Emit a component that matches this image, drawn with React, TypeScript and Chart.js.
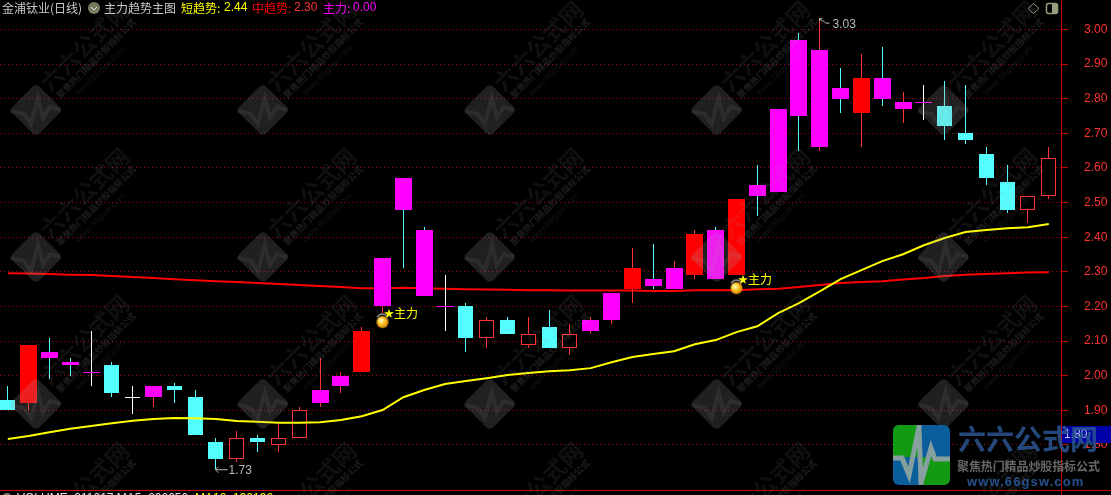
import React, { useEffect, useRef } from "react";
import { Chart, registerables } from "chart.js";

Chart.register(...registerables);

const CJK = '"Noto Sans CJK SC"';
const LATIN = '"Liberation Sans"';

// Candles, one entry per trading day
const bodyTop = [1.93,2.09,2.07,2.04,2.01,2.03,1.94,1.97,1.97,1.94,1.81,1.82,1.82,1.82,1.90,1.96,2.00,2.13,2.34,2.57,2.42,2.20,2.20,2.16,2.16,2.12,2.14,2.12,2.16,2.24,2.31,2.28,2.31,2.41,2.42,2.51,2.55,2.77,2.97,2.94,2.83,2.86,2.86,2.79,2.79,2.78,2.70,2.64,2.56,2.52,2.63];
const bodyBottom = [1.90,1.92,2.05,2.03,2.01,1.95,1.94,1.94,1.96,1.83,1.76,1.76,1.81,1.80,1.82,1.92,1.97,2.01,2.20,2.48,2.23,2.20,2.11,2.11,2.12,2.09,2.08,2.08,2.13,2.16,2.25,2.26,2.25,2.29,2.28,2.29,2.52,2.53,2.75,2.66,2.80,2.76,2.80,2.77,2.79,2.72,2.68,2.57,2.48,2.48,2.52];
const highs = [1.97,2.09,2.11,2.05,2.13,2.04,1.97,1.97,1.98,1.96,1.82,1.84,1.83,1.86,1.91,2.05,2.01,2.14,2.34,2.57,2.43,2.29,2.21,2.17,2.17,2.17,2.19,2.15,2.17,2.24,2.37,2.38,2.33,2.42,2.43,2.51,2.61,2.77,2.99,3.03,2.89,2.93,2.95,2.82,2.84,2.85,2.84,2.66,2.61,2.52,2.66];
const lows = [1.90,1.90,1.99,2.00,1.97,1.94,1.89,1.91,1.92,1.83,1.73,1.75,1.78,1.78,1.82,1.91,1.95,2.01,2.18,2.31,2.23,2.13,2.07,2.08,2.12,2.08,2.08,2.06,2.12,2.15,2.21,2.25,2.25,2.28,2.28,2.29,2.46,2.53,2.65,2.65,2.76,2.66,2.78,2.73,2.74,2.68,2.67,2.55,2.47,2.44,2.51];
const bodyKinds = "crmmmcwmccchchhmmrmmmmchchchmmrmmrmrmmmmmrmmmcccchh".split("");
const wickKinds = "crccwcwrcccrcrrrrrrccwcrcrcrrrrcrrcrcrcrcrcrwccccrr".split("");

// Indicator lines
const shortTrend = [1.817,1.826,1.837,1.847,1.855,1.863,1.870,1.875,1.878,1.877,1.875,1.869,1.867,1.864,1.864,1.866,1.872,1.883,1.901,1.938,1.959,1.976,1.985,1.993,2.002,2.008,2.013,2.016,2.022,2.039,2.054,2.063,2.071,2.091,2.103,2.126,2.143,2.181,2.210,2.244,2.279,2.305,2.331,2.351,2.377,2.398,2.415,2.421,2.426,2.429,2.438];
const midTrend = [2.296,2.295,2.294,2.292,2.291,2.288,2.285,2.282,2.279,2.276,2.273,2.271,2.268,2.265,2.262,2.259,2.256,2.253,2.253,2.254,2.253,2.251,2.250,2.249,2.248,2.247,2.247,2.246,2.246,2.246,2.246,2.245,2.245,2.247,2.247,2.247,2.250,2.251,2.256,2.262,2.268,2.271,2.273,2.278,2.282,2.288,2.292,2.294,2.296,2.298,2.299];

// Price axis
const priceTicks = [1.8,1.9,2.0,2.1,2.2,2.3,2.4,2.5,2.6,2.7,2.8,2.9,3.0];

// "主力" signals
const signalDays = [18, 35];
const signalValues = [2.155, 2.253];
const signalText = "主力";

// Header texts
const stockTitle = "金浦钛业(日线)";
const indicatorTitle = "主力趋势主图";
const shortLabel = "短趋势";
const midLabel = "中趋势";
const mainLabel = "主力";
const mainValue = "0.00";
const crossLabel = "1.80";
const footerWhite = "VOLUME: 311017 MA5: 206050";
const footerYellow = "MA10: 196196";
const watermarkName = "六六公式网";
const watermarkSlogan = "聚焦热门精品炒股指标公式";
const watermarkUrl = "www.66gsw.com";

const COLORS: Record<string, string> = {
  m: "#ff00ff",
  r: "#ff0000",
  c: "#54ffff",
  h: "#000000",
  w: "#ffffff",
};
const WICKS: Record<string, string> = { c: "#54ffff", r: "#ff3232", w: "#ffffff" };
const RED_LINE = "#ff3232";

const days = bodyTop.map((_, i) => i);

function bodyDataset(kind: string, width: number, order: number) {
  return {
    type: "bar" as const,
    label: "k" + kind,
    data: days
      .filter((i) => bodyKinds[i] === kind)
      .map((i) => ({ x: i, y: [bodyBottom[i], bodyTop[i]] })),
    backgroundColor: COLORS[kind],
    borderColor: kind === "h" ? RED_LINE : COLORS[kind],
    borderWidth: kind === "h" ? 1 : 0,
    borderSkipped: false,
    inflateAmount: 0,
    barThickness: width,
    grouped: false,
    order,
  };
}

function makeCoin(): HTMLCanvasElement {
  const c = document.createElement("canvas");
  c.width = 16;
  c.height = 22;
  const g = c.getContext("2d")!;
  g.strokeStyle = "#9a9a9a";
  g.lineWidth = 1.5;
  g.beginPath();
  g.arc(8, 9, 6, Math.PI * 1.15, Math.PI * 1.85);
  g.stroke();
  const grad = g.createRadialGradient(6, 9, 1, 8, 11, 7);
  grad.addColorStop(0, "#fff6b0");
  grad.addColorStop(0.45, "#ffc020");
  grad.addColorStop(1, "#c07000");
  g.fillStyle = grad;
  g.beginPath();
  g.arc(8, 11, 6, 0, Math.PI * 2);
  g.fill();
  return c;
}

function text(ctx: CanvasRenderingContext2D, s: string, x: number, y: number, color: string, font: string) {
  ctx.fillStyle = color;
  ctx.font = font;
  ctx.textAlign = "left";
  ctx.textBaseline = "middle";
  ctx.fillText(s, x, y);
}

const snapPlugin = {
  id: "snap",
  afterDatasetsUpdate(chart: any) {
    chart.getSortedVisibleDatasetMetas().forEach((meta: any) => {
      if (meta.type !== "bar") return;
      meta.data.forEach((el: any) => {
        el.x = Math.floor(el.x) + 0.5;
        let top = Math.round(Math.min(el.y, el.base));
        let bottom = Math.round(Math.max(el.y, el.base));
        if (bottom === top) bottom = top + 1;
        el.y = top;
        el.base = bottom;
        el.height = bottom - top;
      });
    });
  },
};

function drawWatermark(ctx: CanvasRenderingContext2D, cx: number, cy: number) {
  ctx.save();
  ctx.translate(cx, cy);
  ctx.rotate(-Math.PI / 4);
  ctx.fillStyle = "rgba(160,160,160,0.2)";
  ctx.beginPath();
  ctx.roundRect(-19, -19, 38, 38, 5);
  ctx.fill();
  ctx.rotate(Math.PI / 4);
  ctx.strokeStyle = "rgba(170,170,170,0.1)";
  ctx.lineWidth = 4;
  ctx.beginPath();
  ctx.moveTo(-26, 1);
  ctx.lineTo(-12, 4);
  ctx.lineTo(-5, 14);
  ctx.lineTo(2, -12);
  ctx.lineTo(7, 8);
  ctx.lineTo(14, -3);
  ctx.lineTo(25, 0);
  ctx.stroke();
  ctx.rotate(-Math.PI / 4);
  ctx.textAlign = "left";
  ctx.textBaseline = "middle";
  ctx.fillStyle = "rgba(150,150,150,0.11)";
  ctx.font = `bold 23px ${CJK}`;
  ctx.fillText(watermarkName, 22, -11);
  ctx.fillStyle = "rgba(170,170,170,0.17)";
  ctx.font = `bold 9px ${CJK}`;
  ctx.fillText(watermarkSlogan, 25, 6);
  ctx.fillStyle = "rgba(150,150,150,0.12)";
  ctx.font = `9px ${LATIN}`;
  ctx.fillText(watermarkUrl, 40, 18);
  ctx.restore();
}

function drawLogo(ctx: CanvasRenderingContext2D) {
  const x0 = 893, y0 = 425, w = 57, h = 60;
  ctx.save();
  ctx.beginPath();
  ctx.roundRect(x0, y0, w, h, 6);
  ctx.clip();
  ctx.fillStyle = "#0a5e9c";
  ctx.fillRect(x0, y0, w, h);
  ctx.fillStyle = "#129a12";
  ctx.fillRect(x0, y0, 27, 32);
  ctx.fillRect(x0 + 27, y0 + 32, w - 27, h - 32);
  ctx.strokeStyle = "#86a0a0";
  ctx.lineWidth = 5;
  ctx.lineJoin = "miter";
  ctx.beginPath();
  ctx.moveTo(x0, y0 + 33);
  ctx.lineTo(x0 + 9, y0 + 33);
  ctx.lineTo(x0 + 16, y0 + 50);
  ctx.lineTo(x0 + 26, y0 + 2);
  ctx.lineTo(x0 + 28, y0 + 58);
  ctx.lineTo(x0 + 38, y0 + 23);
  ctx.lineTo(x0 + 42, y0 + 34);
  ctx.lineTo(x0 + w, y0 + 34);
  ctx.stroke();
  ctx.restore();
  ctx.save();
  ctx.textAlign = "left";
  ctx.textBaseline = "middle";
  ctx.fillStyle = "rgba(42,85,145,0.85)";
  ctx.font = `bold 28px ${CJK}`;
  ctx.fillText(watermarkName, 958, 439);
  ctx.fillStyle = "#666666";
  ctx.font = `bold 12px ${CJK}`;
  (ctx as any).letterSpacing = "-0.1px";
  ctx.fillText(watermarkSlogan, 957, 466);
  ctx.fillStyle = "#27528e";
  ctx.font = `bold 13px ${LATIN}`;
  (ctx as any).letterSpacing = "1.1px";
  ctx.fillText(watermarkUrl, 967, 482);
  ctx.restore();
}

const overlayPlugin = {
  id: "overlay",
  afterDraw(chart: any) {
    const ctx: CanvasRenderingContext2D = chart.ctx;
    const xs = chart.scales.x;
    const ys = chart.scales.y;
    ctx.save();
    ctx.fillStyle = "#c80000";
    ctx.fillRect(1061, 0, 1, 495);
    ctx.fillRect(0, 490, 1111, 1);

    ctx.fillStyle = "#0000a8";
    ctx.fillRect(1062, 426, 49, 17);
    text(ctx, crossLabel, 1064, 435, "#c0c8ff", `12px ${LATIN}`);

    for (let row = -1; row <= 3; row++) {
      for (let col = 0; col < 5; col++) {
        drawWatermark(ctx, 36 + col * 226.9, 110 + row * 147);
      }
    }

    signalDays.forEach((d, i) => {
      const px = Math.floor(xs.getPixelForValue(d));
      const py = ys.getPixelForValue(signalValues[i]);
      text(ctx, "★", px + 2, py - 9, "#ffff00", `10px ${CJK}`);
      text(ctx, signalText, px + 12, py - 9, "#ffff00", `12px ${CJK}`);
    });

    const grey = "#b8b8b8";
    const hi = Math.max(...highs);
    const lo = Math.min(...lows);
    const hx = Math.floor(xs.getPixelForValue(highs.indexOf(hi))) + 0.5;
    const hy = ys.getPixelForValue(hi);
    ctx.strokeStyle = grey;
    ctx.lineWidth = 1;
    ctx.beginPath();
    ctx.moveTo(hx + 3, hy + 2);
    ctx.lineTo(hx, hy - 0.5);
    ctx.lineTo(hx, hy + 2);
    ctx.moveTo(hx, hy - 0.5);
    ctx.lineTo(hx + 3, hy - 0.5);
    ctx.moveTo(hx + 3, hy + 1);
    ctx.lineTo(hx + 6, hy + 4);
    ctx.lineTo(hx + 10, hy + 4);
    ctx.stroke();
    text(ctx, hi.toFixed(2), hx + 13, hy + 6, grey, `12px ${LATIN}`);
    const lx = Math.floor(xs.getPixelForValue(lows.indexOf(lo))) + 0.5;
    const ly = ys.getPixelForValue(lo);
    ctx.beginPath();
    ctx.moveTo(lx, ly + 0.5);
    ctx.lineTo(lx + 12, ly + 0.5);
    ctx.moveTo(lx + 3, ly - 2.5);
    ctx.lineTo(lx, ly + 0.5);
    ctx.lineTo(lx + 3, ly + 3.5);
    ctx.stroke();
    text(ctx, lo.toFixed(2), lx + 13, ly + 1, grey, `12px ${LATIN}`);

    const cn = `12px ${CJK}`;
    const num = `12px ${LATIN}`;
    text(ctx, stockTitle, 2, 8, "#c8c8c8", cn);
    ctx.fillStyle = "#7a7a60";
    ctx.beginPath();
    ctx.arc(94, 8, 6, 0, Math.PI * 2);
    ctx.fill();
    ctx.strokeStyle = "#e0e0e0";
    ctx.lineWidth = 1;
    ctx.beginPath();
    ctx.moveTo(91, 7);
    ctx.lineTo(94, 10);
    ctx.lineTo(97, 7);
    ctx.stroke();
    text(ctx, indicatorTitle, 104, 8, "#c8c8c8", cn);
    text(ctx, shortLabel + ":", 181, 8, "#ffff00", cn);
    text(ctx, shortTrend[shortTrend.length - 1].toFixed(2), 224, 8, "#ffff00", num);
    text(ctx, midLabel + ":", 252, 8, "#ff0000", cn);
    text(ctx, midTrend[midTrend.length - 1].toFixed(2), 294, 8, "#ff3232", num);
    text(ctx, mainLabel + ":", 323, 8, "#ff00ff", cn);
    text(ctx, mainValue, 353, 8, "#ff00ff", num);

    ctx.strokeStyle = "#9a9a80";
    ctx.beginPath();
    ctx.moveTo(1033.5, 3.5);
    ctx.lineTo(1039, 8.5);
    ctx.lineTo(1033.5, 13.5);
    ctx.lineTo(1028, 8.5);
    ctx.closePath();
    ctx.stroke();
    ctx.lineWidth = 1.5;
    ctx.beginPath();
    ctx.roundRect(1046.5, 3.5, 11, 10, 2);
    ctx.stroke();
    ctx.fillStyle = "#9a9a80";
    ctx.fillRect(1052, 4, 5, 9);

    ctx.save();
    ctx.beginPath();
    ctx.rect(0, 491, 1111, 4);
    ctx.clip();
    ctx.fillStyle = "#7a7a60";
    ctx.beginPath();
    ctx.arc(7, 498, 5, 0, Math.PI * 2);
    ctx.fill();
    text(ctx, footerWhite, 17, 498.5, "#e0e0e0", num);
    text(ctx, footerYellow, 195, 498.5, "#ffff00", num);
    ctx.restore();

    drawLogo(ctx);
    ctx.restore();
  },
};

export default function App() {
  const ref = useRef<HTMLCanvasElement>(null);

  useEffect(() => {
    document.body.style.margin = "0";
    document.body.style.background = "#000";
    const coin = makeCoin();
    const chart = new Chart(ref.current!, {
      type: "bar",
      data: {
        datasets: [
          {
            type: "line",
            label: "短趋势",
            data: days.map((i) => ({ x: i, y: shortTrend[i] })),
            borderColor: "#ffff00",
            borderWidth: 2,
            pointRadius: 0,
            tension: 0,
            order: 0,
          },
          {
            type: "scatter",
            label: "主力",
            data: signalDays.map((d, i) => ({ x: d, y: signalValues[i] })),
            pointStyle: coin,
            pointRadius: 8,
            order: 1,
          },
          bodyDataset("m", 17, 2),
          bodyDataset("r", 17, 2),
          bodyDataset("c", 15, 2),
          bodyDataset("h", 15, 2),
          bodyDataset("w", 15, 2),
          {
            type: "bar",
            label: "wick",
            data: days.map((i) => ({ x: i, y: [lows[i], highs[i]] })),
            backgroundColor: wickKinds.map((k) => WICKS[k]),
            borderWidth: 0,
            inflateAmount: 0,
            barThickness: 1,
            grouped: false,
            order: 3,
          },
          {
            type: "line",
            label: "中趋势",
            data: days.map((i) => ({ x: i, y: midTrend[i] })),
            borderColor: "#ff0000",
            borderWidth: 2,
            pointRadius: 0,
            tension: 0,
            order: 4,
          },
        ] as any,
      },
      options: {
        responsive: false,
        animation: false,
        events: [],
        layout: { autoPadding: false, padding: { left: 0, right: 0, top: 0, bottom: 5 } },
        plugins: { legend: { display: false }, tooltip: { enabled: false }, title: { display: false } },
        scales: {
          x: {
            type: "linear",
            display: false,
            offset: false,
            min: -0.3746,
            max: 50.634,
          },
          y: {
            type: "linear",
            position: "right",
            bounds: "data",
            min: 1.67,
            max: 3.0852,
            afterFit(scale: any) {
              scale.width = 49;
              scale.paddingTop = 0;
              scale.paddingBottom = 0;
            },
            afterBuildTicks(scale: any) {
              scale.ticks = priceTicks.map((value) => ({ value }));
            },
            border: { display: false, dash: [1, 3] },
            grid: {
              color: "#a80000",
              tickColor: "#c80000",
              tickLength: 6,
              tickBorderDash: [],
            },
            ticks: {
              stepSize: 0.1,
              includeBounds: false,
              autoSkip: false,
              color: "#ff3232",
              padding: 16,
              font: { family: "Liberation Sans", size: 12 },
              callback: (v: any) => Number(v).toFixed(2),
            },
          },
        },
      } as any,
      plugins: [snapPlugin, overlayPlugin],
    });
    return () => chart.destroy();
  }, []);

  return <canvas ref={ref} width={1111} height={495} style={{ display: "block", background: "#000" }} />;
}
